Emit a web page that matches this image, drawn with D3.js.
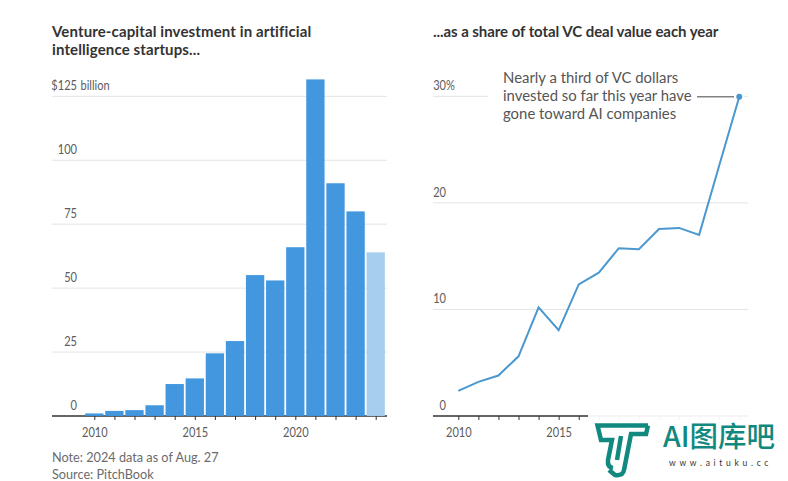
<!DOCTYPE html>
<html>
<head>
<meta charset="utf-8">
<script src="https://cdn.jsdelivr.net/npm/d3@7"></script>
<style>
  html, body {margin: 0; background: #fff;}
  svg {display: block;}
  text {font-family: Lato, sans-serif;}
  .title {font-size: 15px; font-weight: 700; fill: #333;}
  .tick-label {font-family: Lato, sans-serif; font-size: 13.5px; fill: #5c5c5c;}
  .foot {font-size: 12.7px; fill: #6b6b6b;}
  .note {font-size: 14.9px; fill: #555;}
</style>
</head>
<body>
<svg id="chart" width="788" height="481"></svg>
<script>
var years = d3.range(2010, 2025);
var investment = [1, 2, 2.3, 4.2, 12.5, 14.7, 24.5, 29.3, 55.1, 53, 66, 131.6, 91, 80, 64];
var share = [2.35, 3.2, 3.8, 5.6, 10.2, 8.05, 12.35, 13.45, 15.75, 15.65, 17.55, 17.65, 17, 23.5, 29.95];
var leftYearTicks = [2010, 2015, 2020];
var rightYearTicks = [2010, 2015];
var leftTicks = [0, 25, 50, 75, 100, 125];
var rightTicks = [0, 10, 20, 30];
var leftTitle = ['Venture-capital investment in artificial', 'intelligence startups...'];
var rightTitle = ['...as a share of total VC deal value each year'];
var noteLines = ['Nearly a third of VC dollars', 'invested so far this year have', 'gone toward AI companies'];
var footLines = ['Note: 2024 data as of Aug. 27', 'Source: PitchBook'];

var svg = d3.select('#chart');
var narrow = 0.82; // no condensed face installed, so squeeze the axis labels

var yLeft = d3.scaleLinear().domain([0, 125]).range([416, 96.3]),
    yRight = d3.scaleLinear().domain([0, 30]).range([416, 96.3]),
    xLeft = d3.scaleLinear().domain([2010, 2020]).range([94.3, 295.3]),
    xRight = d3.scaleLinear().domain([2010, 2020]).range([458.3, 659]);

function titles(lines, x, spacing) {
    svg.selectAll(null).data(lines).enter()
        .append('text')
        .attr('class', 'title')
        .attr('x', x)
        .attr('y', function (d, i) {return 37 + i * 18})
        .style('letter-spacing', spacing)
        .text(function (d) {return d});
}

// gridlines, y labels and the year axis are the same on both panels
function frame(y, ticks, x, x0, x1, labelEnd, yearTicks, topLabel, prefix, suffix, suffixGap) {
    var g = svg.append('g');
    g.selectAll('line.grid').data(ticks.filter(function (d) {return d > 0})).enter()
        .append('line')
        .attr('class', 'grid')
        .attr('x1', x0).attr('x2', x1)
        .attr('y1', function (d) {return y(d)})
        .attr('y2', function (d) {return y(d)})
        .attr('stroke', '#e2e4e4');
    g.selectAll('text.tick-label').data(ticks).enter()
        .append('text')
        .attr('class', 'tick-label')
        .attr('text-anchor', 'end')
        .attr('transform', function (d) {
            return 'translate(' + labelEnd + ',' + (y(d) - 6) + ') scale(' + narrow + ',1)';
        })
        .text(function (d) {return d === topLabel ? prefix + d : d});
    // the unit hangs off the top number so the digits stay aligned
    g.append('text')
        .attr('class', 'tick-label')
        .attr('transform', 'translate(' + (labelEnd + suffixGap) + ',' + (y(topLabel) - 6) + ') scale(' + narrow + ',1)')
        .text(suffix);

    var axis = svg.append('g')
        .attr('transform', 'translate(0,416)')
        .call(d3.axisBottom(x).tickValues(years).tickSize(4).tickFormat(function (d) {
            return yearTicks.indexOf(d) >= 0 ? d : '';
        }));
    axis.select('.domain').remove();
    axis.selectAll('line').attr('stroke', '#333');
    axis.selectAll('text')
        .attr('class', 'tick-label')
        .attr('y', 0)
        .attr('dy', 0)
        .attr('transform', 'translate(0,21) scale(' + narrow + ',1)');
    axis.attr('font-family', null).attr('font-size', null);
    axis.append('line')
        .attr('x1', x0).attr('x2', x1)
        .attr('stroke', '#333').attr('stroke-width', 1.4);
}

titles(leftTitle, 52, '0.12px');
titles(rightTitle, 433, '-0.06px');

frame(yLeft, leftTicks, xLeft, 52, 387, 77, leftYearTicks, 125, '$', 'billion', 3.5);
frame(yRight, rightTicks, xRight, 433, 748, 446, rightYearTicks, 30, '', '%', 0);

// bars are slightly see-through so the gridlines read through them
var barWidth = 18.3;
svg.append('g').selectAll('rect').data(years).enter()
    .append('rect')
    .attr('x', function (d) {return xLeft(d) - barWidth / 2})
    .attr('width', barWidth)
    .attr('y', function (d, i) {return yLeft(investment[i])})
    .attr('height', function (d, i) {return yLeft(0) - yLeft(investment[i])})
    .attr('fill', function (d) {return d === 2024 ? '#a3ccee' : '#3d94de'})
    .attr('fill-opacity', 0.97);

// the annotation sits on a white patch that cuts the 30% gridline
svg.append('rect')
    .attr('x', 488).attr('y', 66).attr('width', 256).attr('height', 58)
    .attr('fill', '#fff');

var pen = d3.line()
    .x(function (d) {return xRight(d)})
    .y(function (d, i) {return yRight(share[i])});

svg.append('path')
    .attr('d', pen(years))
    .attr('fill', 'none')
    .attr('stroke', '#4a98d0')
    .attr('stroke-width', 2)
    .attr('stroke-linejoin', 'miter');

svg.append('circle')
    .attr('cx', xRight(2024))
    .attr('cy', yRight(share[14]))
    .attr('r', 3)
    .attr('fill', '#4a98d0');

svg.selectAll(null).data(noteLines).enter()
    .append('text')
    .attr('class', 'note')
    .attr('x', 503)
    .attr('y', function (d, i) {return 83 + i * 18})
    .text(function (d) {return d});

svg.append('line')
    .attr('x1', 697).attr('x2', 734)
    .attr('y1', yRight(share[14])).attr('y2', yRight(share[14]))
    .attr('stroke', '#444');

svg.selectAll(null).data(footLines).enter()
    .append('text')
    .attr('class', 'foot')
    .attr('x', 52)
    .attr('y', function (d, i) {return 462 + i * 17})
    .text(function (d) {return d});

// watermark stamped over the bottom right of the reference
var mark = svg.append('g');
mark.append('rect')
    .attr('x', 588).attr('y', 415).attr('width', 200).attr('height', 66)
    .attr('fill', '#fff')
    .attr('fill-opacity', 0.94);
mark.append('path')
    .attr('d', 'M648,425.5 H597.5 L601,440 H612 L608,460 Q607,467 613,468 M621,436 L617,460 M648,425.5 L646,434 H631 L624,470 Q623,476 615,475 L609,470')
    .attr('fill', 'none')
    .attr('stroke', '#12897f')
    .attr('stroke-width', 4.5);
mark.append('text')
    .attr('x', 663).attr('y', 447)
    .attr('fill', '#12897f')
    .style('font-family', "'Noto Sans CJK SC'")
    .style('font-size', '28.5px')
    .style('font-weight', 500)
    .text('AI图库吧');
mark.append('text')
    .attr('x', 669).attr('y', 466)
    .attr('fill', '#333')
    .style('font-size', '8.5px')
    .style('letter-spacing', '3.7px')
    .text('www.aituku.cc');
</script>
</body>
</html>
